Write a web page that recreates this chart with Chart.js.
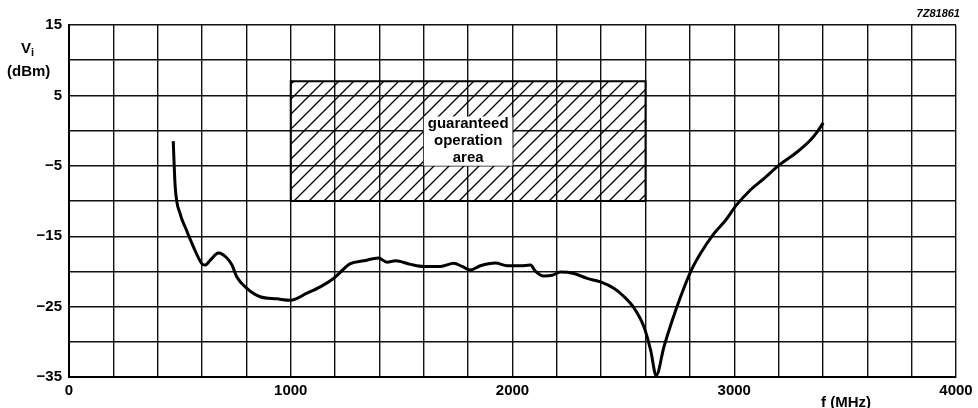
<!DOCTYPE html>
<html>
<head>
<meta charset="utf-8">
<script src="https://cdn.jsdelivr.net/npm/chart.js@4.4.1/dist/chart.umd.min.js"></script>
<style>
  html, body { margin: 0; padding: 0; background: #fff; }
  #wrap { position: relative; width: 978px; height: 408px; }
  .lbl { position: absolute; font-family: "Liberation Sans", Arial, sans-serif; font-weight: bold; color: #000; white-space: nowrap; }
</style>
</head>
<body>
<div id="wrap">
  <canvas id="chart" width="978" height="408"></canvas>
  <div class="lbl" style="right:18px; top:7px; font-size:11px; line-height:13px; font-style:italic;">7Z81861</div>
  <div class="lbl" style="left:21px; top:39px; font-size:15px; line-height:18px;">V<sub style="font-size:11px; vertical-align:-3px;">i</sub></div>
  <div class="lbl" style="left:7px; top:62px; font-size:15px; line-height:18px;">(dBm)</div>
  <div class="lbl" style="left:821px; top:393px; font-size:15px; line-height:18px;">f (MHz)</div>
</div>
<script>
// curve: frequency (MHz) and input level (dBm)
const freqMHz = [470, 479, 501, 524, 561, 599, 614, 637, 674, 712, 735, 757, 802, 862, 938, 998,
  1073, 1133, 1193, 1269, 1329, 1396, 1434, 1472, 1540, 1600, 1675, 1735, 1773, 1810, 1855, 1923,
  1976, 2036, 2081, 2104, 2141, 2179, 2217, 2277, 2337, 2397, 2457, 2500, 2548, 2593, 2623, 2648,
  2683, 2721, 2758, 2804, 2849, 2909, 2962, 3007, 3074, 3135, 3202, 3285, 3345, 3375, 3401];
const viDbm = [-1.5, -8.0, -11.8, -13.7, -16.5, -18.9, -19.1, -18.4, -17.4, -18.1, -19.1, -20.8, -22.4, -23.6, -23.9, -24.1,
  -23.1, -22.2, -21.0, -18.9, -18.5, -18.1, -18.7, -18.5, -19.0, -19.3, -19.3, -18.85, -19.3, -19.8, -19.2, -18.8,
  -19.2, -19.2, -19.1, -20.0, -20.65, -20.55, -20.1, -20.3, -21.0, -21.5, -22.4, -23.5, -25.2, -27.9, -31.2, -34.8,
  -30.7, -26.9, -23.6, -20.0, -17.4, -14.6, -12.7, -10.7, -8.4, -6.8, -4.9, -3.0, -1.3, -0.15, 1.1];

// guaranteed operation area and the blank label box inside it
const areaFreq = [1000, 2600];
const areaVi = [-10, 7];
const boxFreq = [1600, 2000];
const boxVi = [-5, 2];
const boxText = ['guaranteed', 'operation', 'area'];

const xTickLabels = [0, 1000, 2000, 3000, 4000];
const yTickLabels = [15, 5, -5, -15, -25, -35];

function rect(fx, vy) {
  return [
    { x: fx[0], y: vy[0] }, { x: fx[0], y: vy[1] },
    { x: fx[1], y: vy[1] }, { x: fx[1], y: vy[0] }, { x: fx[0], y: vy[0] }
  ];
}

function hatchPattern() {
  const p = 15;
  const c = document.createElement('canvas');
  c.width = p; c.height = p;
  const g = c.getContext('2d');
  g.strokeStyle = '#000';
  g.lineWidth = 1.3;
  g.beginPath();
  g.moveTo(0, p); g.lineTo(p, 0);
  g.moveTo(-2, 2); g.lineTo(2, -2);
  g.moveTo(p - 2, p + 2); g.lineTo(p + 2, p - 2);
  g.stroke();
  return g.createPattern(c, 'repeat');
}

const boxLabel = {
  id: 'boxLabel',
  afterDatasetsDraw(chart) {
    const { ctx, scales } = chart;
    const cx = scales.x.getPixelForValue((boxFreq[0] + boxFreq[1]) / 2);
    const cy = scales.y.getPixelForValue((boxVi[0] + boxVi[1]) / 2);
    ctx.save();
    ctx.font = 'bold 15px "Liberation Sans", Arial, sans-serif';
    ctx.fillStyle = '#000';
    ctx.textAlign = 'center';
    ctx.textBaseline = 'middle';
    boxText.forEach((t, i) => ctx.fillText(t, cx, cy + (i - 1) * 17));
    ctx.restore();
  }
};

const tickFont = { family: '"Liberation Sans", Arial, sans-serif', size: 15, weight: 'bold' };

new Chart(document.getElementById('chart').getContext('2d'), {
  type: 'line',
  data: {
    datasets: [
      {
        data: freqMHz.map((f, i) => ({ x: f, y: viDbm[i] })),
        borderColor: '#000',
        borderWidth: 3,
        pointRadius: 0,
        cubicInterpolationMode: 'monotone',
        fill: false
      },
      {
        data: rect(boxFreq, boxVi),
        borderWidth: 0,
        borderColor: 'rgba(0,0,0,0)',
        backgroundColor: '#fff',
        pointRadius: 0,
        fill: 'shape'
      },
      {
        data: rect(areaFreq, areaVi),
        borderColor: '#000',
        borderWidth: 2,
        backgroundColor: hatchPattern(),
        pointRadius: 0,
        fill: 'shape'
      }
    ]
  },
  options: {
    responsive: false,
    animation: false,
    devicePixelRatio: 1,
    layout: { padding: { top: 25, right: 22, bottom: 0, left: 0 } },
    plugins: { legend: { display: false }, tooltip: { enabled: false } },
    scales: {
      x: {
        type: 'linear',
        min: 0,
        max: 4000,
        afterFit: s => { s.height = 31; },
        grid: { color: '#111', lineWidth: 1.4, drawTicks: false },
        border: { color: '#000', width: 2 },
        ticks: {
          stepSize: 200,
          autoSkip: false,
          maxRotation: 0,
          padding: 5,
          color: '#000',
          font: tickFont,
          callback: v => xTickLabels.includes(v) ? String(v) : ''
        }
      },
      y: {
        type: 'linear',
        min: -35,
        max: 15,
        afterFit: s => { s.width = 69; },
        grid: { color: '#111', lineWidth: 1.4, drawTicks: false },
        border: { color: '#000', width: 2 },
        ticks: {
          stepSize: 5,
          autoSkip: false,
          padding: 7,
          color: '#000',
          font: tickFont,
          callback: v => yTickLabels.includes(v) ? String(v).replace('-', '\u2212') : ''
        }
      }
    }
  },
  plugins: [boxLabel]
});
</script>
</body>
</html>
